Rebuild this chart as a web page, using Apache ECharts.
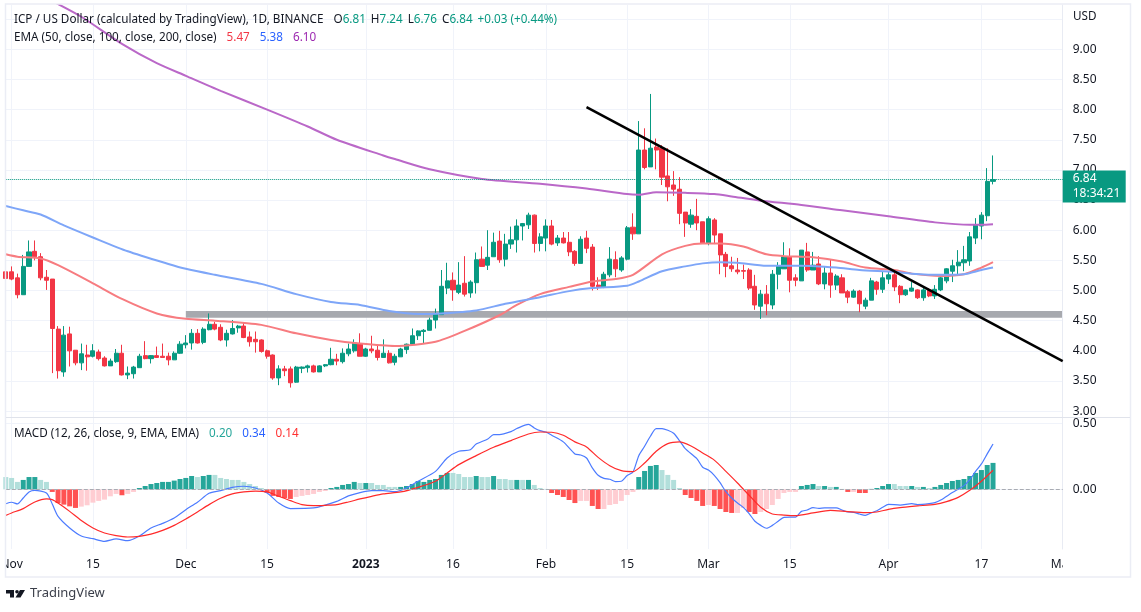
<!DOCTYPE html>
<html>
<head>
<meta charset="utf-8">
<title>ICP / US Dollar</title>
<script src="https://cdn.jsdelivr.net/npm/echarts@6/dist/echarts.min.js"></script>
<style>
  html, body { margin: 0; padding: 0; background: #fff; }
  #chart { width: 1141px; height: 612px; }
</style>
</head>
<body>
<div id="chart"></div>
<script>
// daily candles, first one is Oct 31 (half cut by the left edge), last one Apr 19
const opens = [
  5.31,5.31,5.21,4.93,5.40,5.65,5.56,5.22,5.19,4.36,
  3.65,4.28,4.01,3.80,3.93,3.91,3.98,3.88,3.75,3.82,
  3.96,3.60,3.62,3.72,3.92,3.87,3.92,3.91,3.91,3.85,
  3.96,4.10,4.13,4.29,4.14,4.35,4.44,4.39,4.18,4.28,
  4.38,4.41,4.23,4.19,4.18,4.00,3.93,3.55,3.70,3.70,
  3.48,3.71,3.72,3.75,3.65,3.75,3.77,3.86,3.82,3.95,
  4.00,4.12,3.91,4.03,4.01,3.89,3.96,3.81,3.90,4.02,
  4.11,4.25,4.32,4.34,4.51,4.60,5.04,5.17,4.97,5.12,
  4.96,5.13,5.52,5.42,5.56,5.82,5.52,5.77,5.84,6.07,
  6.09,6.25,5.78,5.87,6.07,5.79,5.87,5.80,5.65,5.45,
  5.87,5.72,5.09,5.06,5.26,5.51,5.34,5.52,6.05,5.94,
  7.33,7.05,7.38,7.36,6.90,6.75,6.68,6.30,6.10,6.23,
  6.14,5.79,6.17,5.94,5.60,5.41,5.34,5.33,5.34,5.07,
  4.74,4.94,4.76,5.27,5.36,5.56,5.21,5.16,5.64,5.34,
  5.44,5.11,5.29,5.09,5.21,4.98,4.89,4.99,4.74,4.84,
  5.14,5.02,5.19,5.26,5.07,4.93,4.99,5.01,4.88,5.01,
  4.91,5.01,5.16,5.32,5.41,5.46,5.49,5.87,6.07,6.24,
  6.81
]
const closes = [
  5.20,5.19,4.93,5.40,5.64,5.56,5.21,5.17,4.37,3.67,
  4.26,4.00,3.80,3.95,3.90,4.00,3.87,3.75,3.83,3.96,
  3.60,3.63,3.73,3.91,3.87,3.92,3.89,3.89,3.85,3.96,
  4.11,4.13,4.29,4.13,4.36,4.44,4.36,4.18,4.29,4.37,
  4.41,4.22,4.15,4.15,3.99,3.91,3.55,3.70,3.67,3.47,
  3.73,3.73,3.75,3.65,3.75,3.77,3.86,3.83,3.96,4.03,
  4.13,3.91,4.03,4.00,3.89,3.96,3.80,3.91,4.03,4.11,
  4.25,4.33,4.34,4.51,4.61,5.07,5.16,5.01,5.09,4.94,
  5.14,5.51,5.40,5.55,5.80,5.51,5.77,5.84,6.07,6.11,
  6.25,5.78,5.89,6.07,5.77,5.87,5.79,5.64,5.45,5.85,
  5.70,5.07,5.06,5.27,5.52,5.36,5.54,6.04,5.94,7.33,
  7.04,7.36,7.33,6.88,6.72,6.68,6.28,6.12,6.25,6.12,
  5.79,6.19,5.92,5.59,5.40,5.36,5.31,5.32,5.04,4.76,
  4.94,4.78,5.27,5.41,5.56,5.17,5.17,5.67,5.34,5.42,
  5.11,5.29,5.09,5.24,4.96,4.89,4.99,4.78,4.84,5.16,
  5.02,5.21,5.26,5.06,4.93,5.01,5.04,4.88,5.01,4.91,
  5.02,5.21,5.36,5.41,5.47,5.51,5.89,6.09,6.25,6.81,
  6.84
]
const lows = [
  5.15,5.17,4.87,4.93,5.40,5.50,5.17,5.01,3.63,3.54,
  3.57,3.74,3.76,3.68,3.67,3.89,3.84,3.74,3.75,3.80,
  3.59,3.53,3.54,3.72,3.86,3.79,3.88,3.89,3.76,3.85,
  3.95,4.04,4.02,4.12,4.11,4.34,4.34,4.16,4.07,4.27,
  4.30,4.21,4.07,3.97,3.97,3.87,3.52,3.43,3.58,3.39,
  3.47,3.63,3.64,3.64,3.65,3.73,3.76,3.76,3.79,3.91,
  3.97,3.91,3.90,3.96,3.84,3.89,3.79,3.76,3.90,3.95,
  4.11,4.18,4.12,4.34,4.37,4.60,4.94,4.83,4.94,4.90,
  4.88,4.95,5.40,5.34,5.56,5.46,5.40,5.69,5.63,5.83,
  6.02,5.63,5.65,5.65,5.75,5.74,5.78,5.57,5.41,5.45,
  5.62,5.00,5.01,5.04,5.22,5.22,5.31,5.50,5.84,5.94,
  7.01,7.05,7.01,6.75,6.48,6.57,6.10,5.89,6.04,6.00,
  5.79,5.75,5.77,5.27,5.22,5.31,5.27,5.19,5.01,4.68,
  4.53,4.59,4.69,5.02,5.36,4.97,5.07,5.16,5.31,5.34,
  5.09,5.02,4.88,5.01,4.96,4.79,4.88,4.64,4.69,4.84,
  4.93,4.96,5.11,4.99,4.79,4.91,4.98,4.86,4.83,4.89,
  4.86,4.99,5.12,5.14,5.27,5.32,5.41,5.77,5.85,6.15,
  6.76
]
const highs = [
  5.45,5.40,5.28,5.59,5.83,5.83,5.62,5.34,5.19,4.41,
  4.41,4.40,4.01,4.12,4.10,4.11,4.02,3.91,3.87,4.03,
  4.10,3.74,3.75,3.95,4.16,3.93,4.07,4.12,3.97,3.99,
  4.16,4.26,4.36,4.36,4.39,4.62,4.48,4.44,4.35,4.51,
  4.43,4.47,4.32,4.32,4.19,4.02,3.94,3.76,3.75,3.74,
  3.75,3.74,3.77,3.77,3.76,3.78,4.05,3.95,4.04,4.12,
  4.19,4.29,4.05,4.25,4.10,4.19,4.01,3.95,4.05,4.12,
  4.37,4.34,4.36,4.55,4.70,5.34,5.46,5.30,5.47,5.57,
  5.17,5.63,5.73,6.00,5.96,5.99,5.94,6.06,6.18,6.12,
  6.29,6.26,5.95,6.18,6.17,5.92,5.97,5.97,5.67,5.90,
  5.99,5.77,5.22,5.31,5.72,5.65,5.57,6.07,6.28,7.81,
  7.69,8.26,7.52,7.41,7.36,6.98,6.88,6.30,6.35,6.52,
  6.14,6.23,6.20,5.94,5.64,5.56,5.54,5.43,5.37,5.26,
  5.01,5.09,5.34,5.47,5.80,5.70,5.27,5.67,5.79,5.64,
  5.57,5.39,5.51,5.27,5.27,5.01,5.02,5.01,4.88,5.21,
  5.16,5.31,5.31,5.32,5.09,5.02,5.14,5.02,5.07,5.04,
  5.09,5.26,5.37,5.51,5.67,5.74,5.97,6.20,6.30,7.03,
  7.24
]

// EMA readings, day = days since Nov 1
const ema50Days = [-1,1,5,8,14,19,25,30,35,43,49,55,60,66,73,78,84,87,91,96,100,104,107,112,116,119,122,126,130,133,138,143,147,152,155,160,164,167,169]
const ema50 = [5.60,5.56,5.53,5.42,5.12,4.86,4.62,4.53,4.50,4.43,4.29,4.18,4.12,4.08,4.15,4.33,4.59,4.76,4.94,5.06,5.15,5.19,5.26,5.60,5.74,5.78,5.78,5.73,5.60,5.57,5.55,5.48,5.38,5.34,5.28,5.24,5.27,5.38,5.47]
const ema100Days = [-1,2,5,9,14,20,27,30,35,43,49,55,60,65,70,74,80,85,91,96,100,106,108,112,116,119,122,125,130,136,142,146,152,155,160,164,167,169]
const ema100 = [6.40,6.33,6.26,6.08,5.88,5.65,5.44,5.36,5.26,5.11,4.94,4.81,4.76,4.66,4.61,4.62,4.67,4.78,4.89,4.99,5.04,5.08,5.15,5.32,5.40,5.45,5.47,5.46,5.41,5.41,5.38,5.34,5.31,5.28,5.26,5.27,5.34,5.38]
const ema200Days = [7,12,19,25,30,36,44,51,56,64,66,72,81,91,99,106,108,111,116,121,124,129,136,143,151,159,165,167,169]
const ema200 = [9.80,9.54,9.09,8.77,8.56,8.31,8.00,7.72,7.50,7.24,7.18,7.01,6.85,6.77,6.69,6.60,6.59,6.63,6.62,6.60,6.56,6.49,6.42,6.33,6.23,6.13,6.09,6.09,6.10]

// MACD pane
const histValues = [
  0.093,0.086,0.056,0.071,0.093,0.093,0.071,0.056,-0.02,-0.104,
  -0.116,-0.129,-0.141,-0.131,-0.121,-0.101,-0.088,-0.078,-0.053,-0.035,
  -0.045,-0.035,-0.02,0.01,0.025,0.04,0.048,0.056,0.056,0.066,
  0.078,0.086,0.101,0.093,0.101,0.109,0.109,0.086,0.078,0.071,
  0.071,0.056,0.04,0.025,0.01,-0.028,-0.05,-0.058,-0.066,-0.073,
  -0.058,-0.05,-0.043,-0.035,-0.02,-0.013,0.01,0.018,0.033,0.04,
  0.056,0.048,0.048,0.048,0.033,0.033,0.018,0.018,0.018,0.025,
  0.04,0.063,0.056,0.071,0.078,0.109,0.124,0.124,0.116,0.093,
  0.093,0.101,0.093,0.093,0.101,0.078,0.078,0.071,0.071,0.071,
  0.071,0.033,0.01,0.003,-0.028,-0.043,-0.058,-0.081,-0.104,-0.088,
  -0.088,-0.126,-0.149,-0.149,-0.119,-0.111,-0.088,-0.043,-0.02,0.093,
  0.139,0.177,0.184,0.146,0.109,0.071,0.01,-0.043,-0.066,-0.088,
  -0.126,-0.119,-0.126,-0.149,-0.172,-0.179,-0.179,-0.141,-0.172,-0.187,
  -0.172,-0.149,-0.119,-0.073,-0.028,-0.02,-0.02,0.025,0.033,0.04,
  0.025,0.025,0.018,0.018,0.003,-0.02,-0.02,-0.028,-0.028,0.003,
  0.01,0.025,0.04,0.04,0.025,0.025,0.025,0.018,0.018,0.01,
  0.018,0.033,0.048,0.063,0.071,0.078,0.101,0.124,0.146,0.184,
  0.20
]
// days whose histogram bar is the pale shade
const histPaleDays = [-1,0,1,5,6,12,13,14,15,16,17,18,20,21,32,35,36,37,38,39,40,41,42,43,49,50,51,52,53,54,60,62,63,64,65,66,76,77,78,79,81,82,84,85,86,88,90,91,92,98,99,102,103,104,105,106,107,112,113,114,115,120,125,126,129,130,131,132,133,134,135,139,141,143,145,152,153,154,156,158]

const macdDays = [-1,0,1,2,3,4,6,7,8,10,12,14,16,18,20,22,24,26,28,30,32,34,36,38,40,42,44,46,48,52,56,58,60,62,64,66,68,70,73,75,77,79,80,82,83,84,86,87,89,90,91,92,93,95,97,98,99,100,101,102,103,104,105,106,107,108,109,110,111,112,113,114,115,116,118,119,120,121,122,123,124,125,126,127,128,129,130,131,132,133,135,136,137,138,139,140,142,143,144,145,146,147,148,149,150,151,153,155,156,158,159,160,162,164,165,166,167,168,169]
const macdLine = [-0.109,-0.098,-0.111,-0.066,-0.02,-0.008,-0.028,-0.111,-0.205,-0.293,-0.354,-0.374,-0.394,-0.376,-0.389,-0.354,-0.293,-0.258,-0.217,-0.154,-0.098,-0.03,-0.01,0.015,0.023,0.01,-0.028,-0.104,-0.146,-0.141,-0.091,-0.05,-0.025,-0.01,-0.01,-0.018,0.01,0.061,0.136,0.237,0.288,0.30,0.343,0.381,0.414,0.414,0.437,0.46,0.492,0.465,0.444,0.434,0.409,0.359,0.268,0.26,0.237,0.162,0.106,0.083,0.076,0.058,0.061,0.104,0.131,0.255,0.326,0.402,0.46,0.46,0.447,0.424,0.369,0.308,0.232,0.167,0.146,0.106,0.05,-0.018,-0.066,-0.104,-0.137,-0.184,-0.242,-0.273,-0.295,-0.273,-0.242,-0.212,-0.21,-0.167,-0.157,-0.139,-0.144,-0.141,-0.141,-0.157,-0.172,-0.174,-0.187,-0.197,-0.179,-0.162,-0.136,-0.114,-0.119,-0.109,-0.116,-0.109,-0.101,-0.081,-0.025,0.028,0.073,0.136,0.192,0.268,0.343]
const signalDays = [-1,0,2,4,6,7,8,10,12,14,16,18,20,22,24,26,28,30,32,34,36,38,40,42,44,46,48,50,52,54,56,58,60,62,64,67,70,73,75,77,80,83,86,89,91,93,95,97,99,101,103,105,107,109,111,113,115,117,119,121,123,125,127,129,131,133,135,138,141,144,147,149,151,153,156,159,161,163,165,167,169]
const signalLine = [-0.197,-0.179,-0.146,-0.096,-0.073,-0.078,-0.104,-0.167,-0.237,-0.293,-0.331,-0.351,-0.361,-0.356,-0.339,-0.311,-0.273,-0.225,-0.172,-0.116,-0.068,-0.035,-0.02,-0.013,-0.02,-0.053,-0.086,-0.116,-0.124,-0.121,-0.116,-0.096,-0.073,-0.053,-0.035,-0.02,0.015,0.061,0.124,0.187,0.255,0.318,0.369,0.419,0.434,0.432,0.409,0.359,0.321,0.242,0.179,0.141,0.134,0.199,0.288,0.346,0.359,0.328,0.275,0.221,0.136,0.048,-0.045,-0.136,-0.187,-0.195,-0.199,-0.179,-0.159,-0.169,-0.177,-0.172,-0.152,-0.139,-0.126,-0.114,-0.093,-0.061,-0.008,0.061,0.144]

// hand drawn black trend line and grey support band
const trendDays = [99,181]
const trendPrices = [8.04,3.83]
const bandTop = 4.66
const bandBottom = 4.55

const lastPrice = 6.84
const priceTicks = [3,3.5,4,4.5,5,5.5,6,6.5,7,7.5,8,8.5,9,9.5]
const priceLabels = [3,3.5,4,4.5,5,5.5,6,6.5,7,7.5,8,8.5,9]
const macdTicks = [0,0.5]

const tickDates = ['2022-11-01','2022-11-15','2022-12-01','2022-12-15','2023-01-01','2023-01-16','2023-02-01','2023-02-15','2023-03-01','2023-03-15','2023-04-01','2023-04-17','2023-05-01']
const tickLabels = ['Nov','15','Dec','15','2023','16','Feb','15','Mar','15','Apr','17','May']

const categories = []
for (let i = 0; i < 183; i++) {
  categories.push(new Date(Date.UTC(2022, 9, 31 + i)).toISOString().slice(0, 10))
}

const FONT = '"Noto Sans", sans-serif'
const GRID_COLOR = '#f0f3fa'
const UP = '#089981'
const DOWN = '#f23645'

const candleData = opens.map((o, i) => [o, closes[i], lows[i], highs[i]])
const dayPairs = (days, values) => days.map((d, i) => [d + 1, values[i]])
const isTick = (i, value) => tickDates.includes(value)

const histData = histValues.map((v, i) => {
  const pale = histPaleDays.includes(i - 1)
  let color
  if (v >= 0) color = pale ? '#b2dfdb' : '#26a69a'
  else color = pale ? '#ffcdd2' : '#ff5252'
  return { value: v, itemStyle: { color: color } }
})

function lineSeries(name, days, values, color, width, xIdx, z) {
  return {
    name: name,
    type: 'line',
    xAxisIndex: xIdx,
    yAxisIndex: xIdx,
    data: dayPairs(days, values),
    showSymbol: false,
    smooth: 0.25,
    z: z,
    silent: true,
    lineStyle: { color: color, width: width }
  }
}

function headPart(color) {
  return { fontFamily: FONT, fontSize: 11.7, fontWeight: 'normal', color: color }
}

const headStyle = {
  d: headPart('#131722'),
  g: headPart(UP),
  r: headPart(DOWN),
  b: headPart('#2962ff'),
  p: headPart('#9c27b0'),
  t: headPart('#26a69a'),
  m: headPart('#ff3030')
}

function headTitle(text, left, top) {
  return { text: text, left: left, top: top, padding: 0, textStyle: { fontWeight: 'normal', rich: headStyle } }
}

const option = {
  animation: false,
  backgroundColor: '#fff',
  title: [
    headTitle('{d|ICP / US Dollar (calculated by TradingView), 1D, BINANCE}  {d|O}{g|6.81} {d|H}{g|7.24} {d|L}{g|6.76} {d|C}{g|6.84} {g|+0.03 (+0.44%)}', 14, 11),
    headTitle('{d|EMA (50, close, 100, close, 200, close)}  {r|5.47}  {b|5.38}  {p|6.10}', 14, 29),
    headTitle('{d|MACD (12, 26, close, 9, EMA, EMA)}  {t|0.20}  {b|0.34}  {m|0.14}', 14, 425),
    headTitle('{d|USD}', 1073, 11),
    { text: 'TradingView', left: 30, top: 587, padding: 0, textStyle: { fontFamily: FONT, fontSize: 13, fontWeight: 'normal', color: '#3b3f4a' } }
  ],
  grid: [
    { left: 5.8, width: 1056.9, top: 5, height: 412.5, outerBoundsMode: 'none' },
    { left: 5.8, width: 1056.9, top: 418, height: 131, outerBoundsMode: 'none' }
  ],
  xAxis: [
    {
      type: 'category', gridIndex: 0, data: categories, boundaryGap: false,
      axisLine: { show: false }, axisTick: { show: false }, axisLabel: { show: false },
      splitLine: { show: true, interval: isTick, lineStyle: { color: GRID_COLOR, width: 1 } }
    },
    {
      type: 'category', gridIndex: 1, data: categories, boundaryGap: false,
      axisLine: { lineStyle: { color: '#e8ebf3', width: 1 } }, axisTick: { show: false },
      splitLine: { show: true, interval: isTick, lineStyle: { color: GRID_COLOR, width: 1 } },
      axisLabel: {
        interval: isTick,
        alignMinLabel: 'center',
        alignMaxLabel: 'center',
        margin: 10,
        fontFamily: FONT,
        fontSize: 12,
        color: '#131722',
        formatter: function(v) {
          const label = tickLabels[tickDates.indexOf(v)]
          return label === '2023' ? '{y|2023}' : label
        },
        rich: { y: { fontFamily: FONT, fontSize: 12, fontWeight: 'bold', color: '#131722' } }
      }
    }
  ],
  yAxis: [
    {
      type: 'value', gridIndex: 0, position: 'right', min: 2.894, max: 9.735, z: 1,
      axisLine: { show: true, lineStyle: { color: '#e8ebf3' } },
      axisTick: { show: false, customValues: priceTicks },
      splitLine: { show: true, lineStyle: { color: GRID_COLOR, width: 1 } },
      axisLabel: {
        customValues: priceLabels, margin: 10, fontFamily: FONT, fontSize: 12, color: '#131722',
        formatter: (v) => v.toFixed(2)
      }
    },
    {
      type: 'value', gridIndex: 1, position: 'right', min: -0.452, max: 0.54, z: 1,
      axisLine: { show: true, lineStyle: { color: '#e8ebf3' } },
      axisTick: { show: false, customValues: macdTicks },
      splitLine: { show: true, lineStyle: { color: GRID_COLOR, width: 1 } },
      axisLabel: {
        customValues: macdTicks, margin: 10, fontFamily: FONT, fontSize: 12, color: '#131722',
        formatter: (v) => v.toFixed(2)
      }
    }
  ],
  series: [
    {
      name: 'Band',
      type: 'line',
      data: [],
      z: 1,
      silent: true,
      markArea: {
        silent: true,
        itemStyle: { color: '#a7a9ae' },
        data: [[
          { xAxis: '2022-12-01', yAxis: bandTop },
          { xAxis: categories[categories.length - 1], yAxis: bandBottom }
        ]]
      }
    },
    {
      name: 'ICP',
      type: 'candlestick',
      data: candleData,
      barWidth: 4.6,
      z: 2,
      silent: true,
      itemStyle: { color: UP, color0: DOWN, borderColor: UP, borderColor0: DOWN, borderWidth: 1 },
      markLine: {
        silent: true,
        symbol: 'none',
        lineStyle: { color: UP, type: 'dotted', width: 1 },
        label: {
          show: true,
          position: 'end',
          distance: 0,
          offset: [0, 7],
          formatter: '6.84\n18:34:21',
          color: '#fff',
          fontFamily: FONT,
          fontSize: 12,
          lineHeight: 15,
          align: 'left',
          backgroundColor: UP,
          width: 53,
          padding: [1, 0, 1, 10]
        },
        data: [{ yAxis: lastPrice }]
      }
    },
    lineSeries('EMA 50', ema50Days, ema50, '#f77c80', 2, 0, 3),
    lineSeries('EMA 100', ema100Days, ema100, '#7ea6f8', 2, 0, 3),
    lineSeries('EMA 200', ema200Days, ema200, '#ba68c8', 2, 0, 3),
    lineSeries('Trend', trendDays, trendPrices, '#000', 2.5, 0, 5),
    {
      name: 'Histogram',
      type: 'bar',
      xAxisIndex: 1,
      yAxisIndex: 1,
      data: histData,
      barWidth: 5,
      silent: true,
      z: 2,
      markLine: {
        silent: true,
        symbol: 'none',
        label: { show: false },
        lineStyle: { color: '#a9acb3', type: 'dashed', width: 1 },
        data: [{ yAxis: 0 }]
      }
    },
    lineSeries('MACD', macdDays, macdLine, '#4c7bff', 1.2, 1, 3),
    lineSeries('Signal', signalDays, signalLine, '#ff2a2a', 1.2, 1, 3)
  ],
  graphic: [
    // clip the first and last date label at the pane edges, then the outer frame
    { type: 'rect', z: 100, shape: { x: 0, y: 550, width: 5.5, height: 27 }, style: { fill: '#fff' } },
    { type: 'rect', z: 100, shape: { x: 1063, y: 550, width: 67, height: 26 }, style: { fill: '#fff' } },
    { type: 'rect', z: 101, shape: { x: 5.5, y: 4, width: 1125, height: 573 }, style: { fill: 'none', stroke: '#ebedf5', lineWidth: 1.5 } },
    { type: 'line', z: 101, shape: { x1: 6, y1: 417.5, x2: 1130, y2: 417.5 }, style: { stroke: '#e0e3eb', lineWidth: 1 } },
    // TradingView mark
    { type: 'polygon', z: 101, shape: { points: [[6, 590], [14, 590], [14, 597.5], [10, 597.5], [10, 593.5], [6, 593.5]] }, style: { fill: '#131722' } },
    { type: 'circle', z: 101, shape: { cx: 17, cy: 591.8, r: 1.8 }, style: { fill: '#131722' } },
    { type: 'polygon', z: 101, shape: { points: [[20, 590], [25, 590], [20.5, 597.5], [15.5, 597.5]] }, style: { fill: '#131722' } }
  ]
}

const chart = echarts.init(document.getElementById('chart'))
chart.setOption(option)
</script>
</body>
</html>
